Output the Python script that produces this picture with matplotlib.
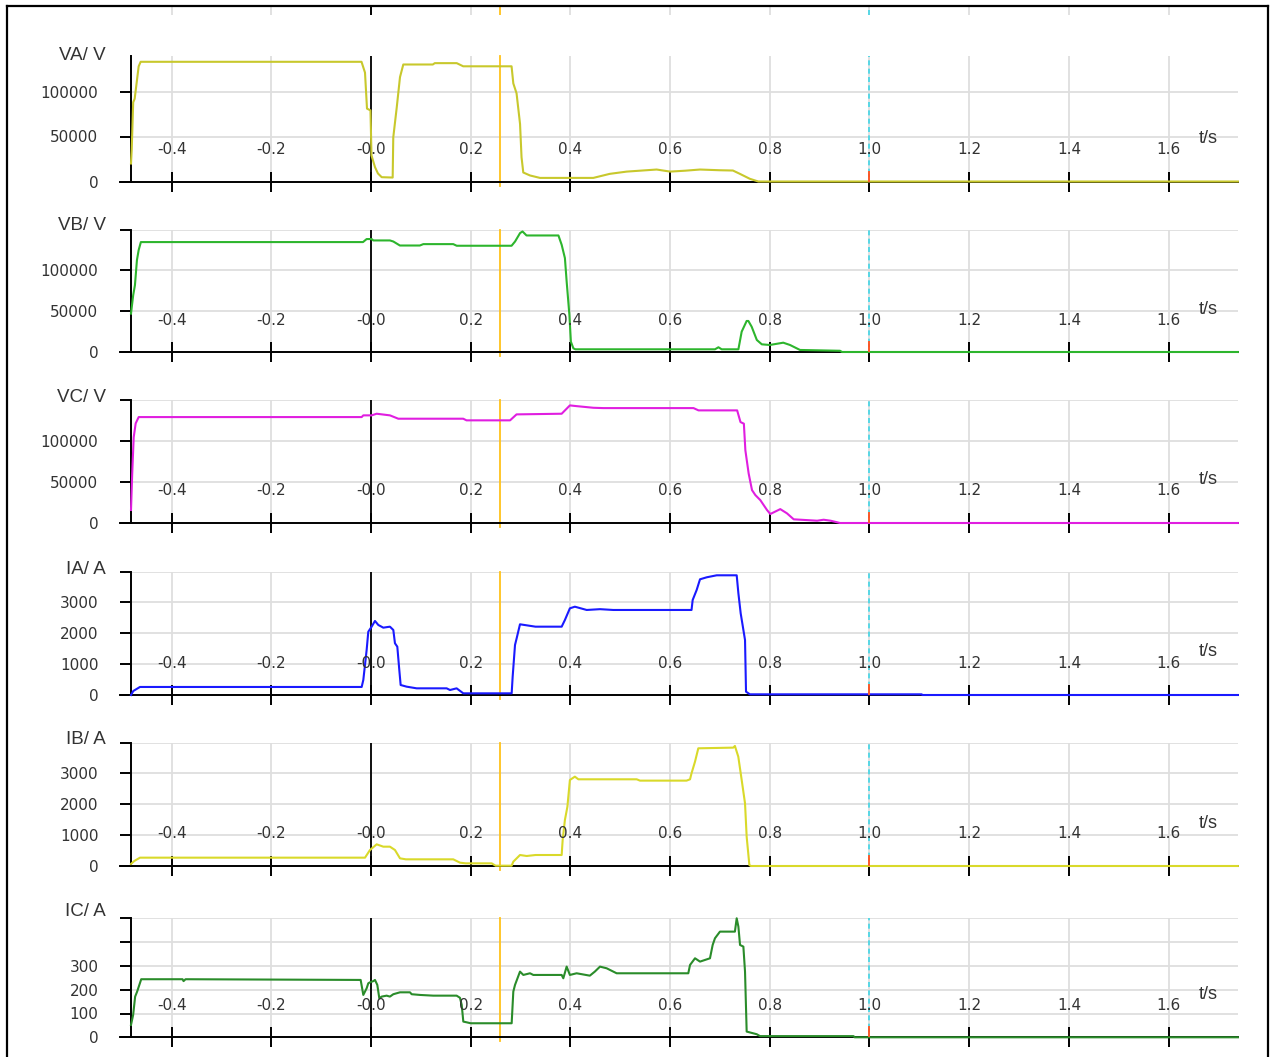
import matplotlib
matplotlib.use('Agg')
from matplotlib import pyplot as plt
from matplotlib import transforms
from matplotlib.lines import Line2D

W, H = 1270, 1057

# time axis (s)
x_ticks = [-0.4, -0.2, 0.0, 0.2, 0.4, 0.6, 0.8, 1.0, 1.2, 1.4, 1.6]
x_tick_labels = ['-0.4', '-0.2', '-0.0', '0.2', '0.4', '0.6', '0.8', '1.0', '1.2', '1.4', '1.6']
t_start, t_end = -0.4814, 1.7392
t_marker = 0.259       # orange cursor
t_cursor = 1.0         # cyan dashed cursor

# VA / V
va_t = [-0.4814, -0.480, -0.477, -0.474, -0.470, -0.466, -0.462, -0.019, -0.012, -0.008, -0.001,
        0.001, 0.008, 0.014, 0.0215, 0.0435, 0.0447, 0.0516, 0.0582, 0.0648, 0.124, 0.128, 0.172,
        0.185, 0.282, 0.2855, 0.292, 0.299, 0.302, 0.3055, 0.319, 0.339, 0.446, 0.479, 0.513,
        0.573, 0.600, 0.630, 0.660, 0.700, 0.726, 0.740, 0.760, 0.777, 1.739]
va_v = [20000, 35000, 88000, 92000, 110000, 128000, 133000, 133000, 121000, 81000, 79000,
        29000, 16000, 8900, 4800, 4400, 49000, 82000, 116000, 130000, 130000, 131500, 131500,
        128000, 128000, 109000, 98000, 64000, 27000, 10000, 6700, 4000, 4000, 8500, 11000,
        13300, 11000, 12000, 13300, 12500, 12200, 8500, 3000, 0, 0]

# VB / V
vb_t = [-0.4814, -0.477, -0.4735, -0.4695, -0.466, -0.4616, -0.016, -0.0087, 0.0013, 0.0047,
        0.038, 0.0448, 0.058, 0.098, 0.105, 0.165, 0.172, 0.282, 0.289, 0.299, 0.304, 0.312,
        0.376, 0.3825, 0.389, 0.3925, 0.398, 0.401, 0.406, 0.410, 0.690, 0.697, 0.7035, 0.737,
        0.7436, 0.7536, 0.757, 0.7636, 0.774, 0.784, 0.800, 0.827, 0.8405, 0.8606, 0.9408,
        0.945, 1.739]
vb_v = [47000, 69600, 81800, 112500, 124900, 134600, 134600, 138300, 138300, 136600,
        136600, 135300, 130400, 130400, 132100, 132100, 130100, 130100, 135300, 145600, 147600,
        142700, 142700, 131300, 115000, 86300, 45400, 12600, 4500, 3300, 3300, 5800, 3300, 3300,
        24900, 38000, 38000, 31000, 14700, 9400, 8600, 11400, 8600, 2500, 1500,
        0, 0]

# VC / V
vc_t = [-0.4814, -0.479, -0.476, -0.472, -0.466, -0.0187, -0.0154, 0.0013, 0.0114, 0.038,
        0.0548, 0.185, 0.1916, 0.279, 0.292, 0.3825, 0.399, 0.4125, 0.446, 0.466, 0.647, 0.657,
        0.7345, 0.7412, 0.748, 0.751, 0.7576, 0.7643, 0.771, 0.781, 0.7944, 0.801, 0.821,
        0.8345, 0.848, 0.895, 0.908, 0.922, 0.941, 1.739]
vc_v = [15900, 60000, 105000, 122000, 129700, 129700, 131800, 131800, 133800, 131800,
        127700, 127700, 125700, 125700, 133000, 133800, 144000, 143100, 141100, 140700, 140700,
        137900, 137900, 123600, 121600, 89000, 60600, 40300, 34200, 28000, 15900, 11000, 17000,
        11800, 4500, 2800, 4000, 2800, 0, 0]

# IA / A
ia_t = [-0.4814, -0.4768, -0.4634, -0.0187, -0.0154, -0.0087, -0.0054, 0.0013, 0.008, 0.0147,
        0.0247, 0.038, 0.0448, 0.0481, 0.0528, 0.0568, 0.0595, 0.0715, 0.0916, 0.1518, 0.1585,
        0.1718, 0.1852, 0.2822, 0.2842, 0.2889, 0.2922, 0.2989, 0.33, 0.3825, 0.389, 0.399,
        0.409, 0.4327, 0.4594, 0.486, 0.643, 0.6453, 0.6533, 0.66, 0.6734, 0.6935, 0.7336,
        0.737, 0.7416, 0.7503, 0.7523, 0.76, 1.1047, 1.106, 1.739]
ia_v = [0, 130, 260, 260, 486, 1458, 2050, 2213, 2398, 2268,
        2181, 2213, 2106, 1675, 1565, 810, 324, 270, 216, 216, 162,
        216, 54, 54, 594, 1620, 1836, 2290, 2213, 2213, 2430, 2808,
        2860, 2754, 2780, 2754, 2754, 3078, 3402, 3747, 3812, 3877, 3877,
        3294, 2646, 1782, 108, 22, 22, 0, 0]

# IB / A
ib_t = [-0.4814, -0.475, -0.4634, -0.012, -0.002, 0.0114, 0.0247, 0.038, 0.0481, 0.0582, 0.07,
        0.165, 0.1785, 0.19, 0.242, 0.25, 0.2822, 0.2855, 0.2989, 0.3123, 0.33, 0.3825, 0.3845,
        0.389, 0.394, 0.399, 0.409, 0.416, 0.533, 0.5396, 0.633, 0.64, 0.643, 0.65, 0.6566,
        0.7268, 0.730, 0.7368, 0.7436, 0.7503, 0.7536, 0.759, 0.762, 1.739]
ib_v = [65, 160, 270, 270, 518, 702, 626, 626, 518, 248, 216,
        216, 108, 86, 86, 10, 10, 140, 356, 324, 356, 356, 842,
        1490, 1920, 2786, 2894, 2808, 2808, 2765, 2765, 2808, 3003, 3380, 3812,
        3834, 3888, 3542, 2786, 2030, 950, 32, 0, 0]

# IC / A
ic_t = [-0.4814, -0.4771, -0.4731, -0.4691, -0.4609, -0.378, -0.376, -0.372, -0.0207, -0.0154,
        -0.0087, -0.0054, -0.002, 0.0047, 0.008, 0.0127, 0.0167, 0.0214, 0.0314, 0.038, 0.0448,
        0.0582, 0.0782, 0.0816, 0.0983, 0.125, 0.1718, 0.1785, 0.182, 0.1852, 0.1918, 0.20,
        0.2822, 0.2855, 0.2889, 0.2989, 0.3056, 0.319, 0.3256, 0.3825, 0.3858, 0.3925, 0.399,
        0.4125, 0.439, 0.449, 0.4594, 0.4727, 0.4928, 0.6365, 0.64, 0.65, 0.66, 0.68, 0.6854,
        0.69, 0.70, 0.73, 0.7336, 0.737, 0.7403, 0.747, 0.7503, 0.7536, 0.7737, 0.7803, 0.968,
        0.97, 1.739]
ic_v = [52, 94, 171, 192, 244, 244, 236, 244, 241, 178,
        206, 227, 231, 236, 241, 220, 164, 171, 175, 171, 181,
        189, 189, 181, 178, 175, 175, 166, 136, 66, 63, 59,
        59, 192, 220, 276, 262, 269, 262, 262, 248, 297, 262,
        269, 259, 276, 297, 290, 269, 269, 304, 332, 318, 332, 388,
        416, 444, 444, 500, 465, 388, 381, 276, 24, 13, 5, 5,
        0, 0]

names = ['VA/ V', 'VB/ V', 'VC/ V', 'IA/ A', 'IB/ A', 'IC/ A']
series_t = [va_t, vb_t, vc_t, ia_t, ib_t, ic_t]
series_v = [va_v, vb_v, vc_v, ia_v, ib_v, ic_v]
colors = ['#c8c82c', '#2db52d', '#e01ee0', '#1a1aff', '#d9d92a', '#2a8c2a']
y_max = [140000, 150000, 150000, 4000, 4000, 500]
y_ticks = [[0, 50000, 100000],
           [0, 50000, 100000, 150000],
           [0, 50000, 100000, 150000],
           [0, 1000, 2000, 3000, 4000],
           [0, 1000, 2000, 3000, 4000],
           [0, 100, 200, 300, 400, 500]]
y_tick_labels = [['0', '50000', '100000'],
                 ['0', '50000', '100000', ''],
                 ['0', '50000', '100000', ''],
                 ['0', '1000', '2000', '3000', ''],
                 ['0', '1000', '2000', '3000', ''],
                 ['0', '100', '200', '300', '', '']]

# panel placement in pixels: (top of y axis, zero line)
panel_px = [(55.5, 181.5), (229.5, 352), (400.5, 523), (571.5, 695), (742.5, 866), (918.3, 1037.3)]
left_px, spine_px, right_px = 120, 131, 1238
t_left = t_start - (spine_px - left_px) / (right_px - spine_px) * (t_end - t_start)

num_font = 'DejaVu Sans'
txt_font = ['Liberation Sans', 'DejaVu Sans']
txt_col = '#333333'
grid_col = '#dedede'

fig = plt.figure(figsize=(W / 100, H / 100), dpi=100)

for i in range(6):
    top, zero = panel_px[i]
    ax = fig.add_axes([left_px / W, 1 - zero / H, (right_px - left_px) / W, (zero - top) / H])
    ax.set_xlim(t_left, t_end)
    ax.set_ylim(0, y_max[i])
    for s in ['top', 'right']:
        ax.spines[s].set_visible(False)
    ax.spines['left'].set_position(('data', t_start))
    ax.spines['left'].set_linewidth(1.4)
    ax.spines['bottom'].set_linewidth(1.4)

    ax.set_xticks(x_ticks)
    ax.set_xticklabels([])
    ax.tick_params(axis='x', direction='inout', length=15, width=1.4, color='black')
    ax.set_yticks(y_ticks[i])
    ax.set_yticklabels(y_tick_labels[i], fontsize=11, family=num_font, color=txt_col)
    ax.tick_params(axis='y', direction='out', length=8, width=1.4, pad=15.5, color='black')
    ax.grid(True, color=grid_col, lw=1.3)
    ax.set_axisbelow(True)

    # cursors
    ax.axvline(0.0, color='black', lw=1.3, zorder=1.5)
    ax.axvline(t_marker, ymin=-0.035, ymax=1, color='#ffc21a', lw=1.3, clip_on=False, zorder=1.6)
    ax.axvline(t_cursor, color='#3fd6e6', lw=1.2, ls=(0, (3, 2)), zorder=1.6)
    ax.axvline(t_cursor, ymin=0, ymax=10 / (zero - top), color='#ff5a2a', lw=1.4, zorder=3.5)

    # trace on top of the axis line, as in the original recorder view
    ax.plot(series_t[i], series_v[i], color=colors[i], lw=1.5, zorder=3, clip_on=False)

    # x tick labels sit above the axis
    lab_tr = transforms.offset_copy(ax.transData, fig=fig, x=0, y=32, units='dots')
    for xt, xl in zip(x_ticks, x_tick_labels):
        ax.text(xt, 0, xl, transform=lab_tr, ha='center', va='center',
                fontsize=11, family=num_font, color=txt_col)
    ts_tr = transforms.offset_copy(ax.transData, fig=fig, x=-39, y=43, units='dots')
    ax.text(t_end, 0, 't/s', transform=ts_tr, ha='left', va='center',
            fontsize=13, family=txt_font, color=txt_col)

    fig.text(106 / W, 1 - (zero - 126) / H, names[i], ha='right', va='center',
             fontsize=13.5, family=txt_font, color=txt_col)

# stubs of the panel above, cut off by the frame
stub = fig.add_axes([left_px / W, 1 - 15 / H, (right_px - left_px) / W, 9 / H])
stub.set_xlim(t_left, t_end)
stub.set_ylim(0, 1)
stub.axis('off')
for xt in x_ticks:
    stub.axvline(xt, color=grid_col, lw=1.3)
stub.axvline(0.0, color='black', lw=1.4)
stub.axvline(t_marker, color='#ffc21a', lw=1.3)
stub.axvline(t_cursor, color='#3fd6e6', lw=1.2, ls=(0, (3, 2)))

# outer frame
fig.add_artist(Line2D([7 / W, 7 / W], [0, 1 - 6 / H], color='black', lw=1.6))
fig.add_artist(Line2D([1268 / W, 1268 / W], [0, 1 - 6 / H], color='black', lw=1.6))
fig.add_artist(Line2D([7 / W, 1268 / W], [1 - 6 / H, 1 - 6 / H], color='black', lw=1.6))

plt.savefig('out.png', dpi=100)
